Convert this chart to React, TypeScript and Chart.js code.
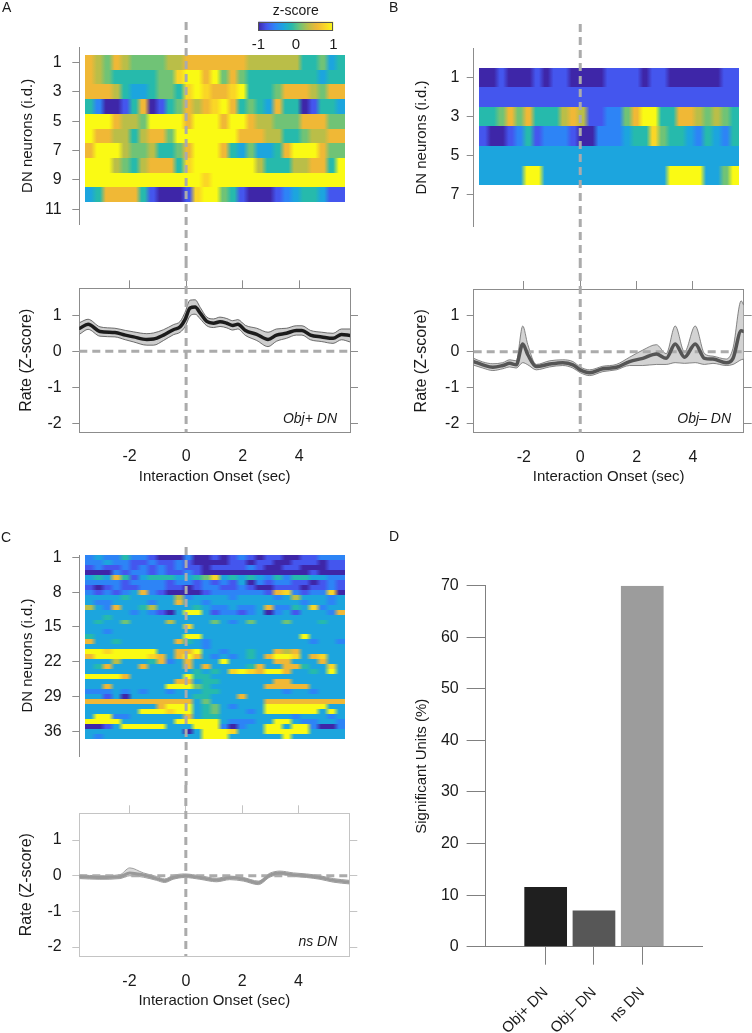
import React, { useEffect, useRef } from "react";
import { Chart, registerables } from "chart.js";

Chart.register(...registerables);

const FONT = "'Liberation Sans', Arial, Helvetica, sans-serif";
const INK = "#1a1a1a";
Chart.defaults.font.family = FONT;
Chart.defaults.color = INK;

/* ================= data ================= */
// shared time axis (sec) and rate axis (z-score)
const timeMin = -3.78;
const timeMax = 5.8;
const timeTicks = [-2, 0, 2, 4];
const rateMin = -2.25;
const rateMax = 1.75;
const rateTicks = [-2, -1, 0, 1];
const onsetTime = 0;
const baselineRate = 0;

// heatmap time bins span
const heatBinStart = -3.58;
const heatBinEnd = 5.63;

// each heatmap digit is a quantised z-score level
const zScoreLevels = [-1, -0.78, -0.56, -0.33, -0.11, 0.11, 0.33, 0.56, 0.78, 1];
const colorbarTicks = [-1, 0, 1];

// Panel A heatmap (Obj+ DN), 10 neurons
const heatRowsA = [
  "76576555566777777766666644534",
  "76544444558997957544444444344",
  "77764334554898778944457776577",
  "42001470145767897454374401443",
  "99976659999799979976655577755",
  "97766467759999999777664456677",
  "79996556445799974353347999755",
  "99965467774899999996444667749",
  "99999999999998999999999999999",
  "34777741000189954100012344311",
];
const heatTicksA = [1, 3, 5, 7, 9, 11];

// Panel B heatmap (Obj– DN), 6 neurons
const heatRowsB = [
  "00100010110000111101100000011",
  "11111111111111111111111111111",
  "44575744467611225799447765654",
  "10012412221002223448544324324",
  "33333333333333333333333333333",
  "33333993333333333333399993359",
];
const heatTicksB = [1, 3, 5, 7];

// Panel C heatmap (ns DN), 37 neurons
const heatRowsC = [
  "23224221000200101210110011222",
  "22322112112100001101100111011",
  "12112121212110111121001100011",
  "00021221211210000000000001000",
  "34374134443345834343242443322",
  "22221222212212121302122110121",
  "10121122211012211210011101121",
  "21212372100001222222178212280",
  "33334333336233332333323633323",
  "32233332337332333333333323323",
  "63273346333343223223722438233",
  "33333232103993122123023133327",
  "33433333333333333333333333333",
  "34335333363333532353335333433",
  "33333333333833333333333333333",
  "33233333333333333333333333333",
  "43333333333993333333333393333",
  "73343333337432333333333332332",
  "33333333333332333333333333333",
  "99899999337793323343376733333",
  "79999998737973232343799837833",
  "33363334723733393333377333733",
  "34733373333737333347337743383",
  "33333333333343438987997334393",
  "99997333333944333333333333333",
  "33333333337734433333377333333",
  "33733333399954333333777773333",
  "22232323323334433333332332333",
  "33130333333344333733333333333",
  "77777777777735333333777777777",
  "33333333799934532333999999933",
  "33333399989934533323999999393",
  "39922333333734433333333233323",
  "99993333339999932223399322332",
  "00139999933399920233993992002",
  "33333333333039998333999993333",
  "32333333333339993333339333333",
];
const heatTicksC = [1, 8, 15, 22, 29, 36];

// Panel A population rate
const timeA = [-3.76, -3.47, -3.05, -2.52, -2.15, -1.86, -1.39, -1.15, -0.8, -0.45, -0.21, -0.04, 0.14, 0.32, 0.5, 0.73, 0.97, 1.2, 1.44, 1.65, 1.83, 2.1, 2.5, 2.9, 3.2, 3.55, 3.9, 4.1, 4.4, 4.8, 5.2, 5.5, 5.8];
const meanA = [0.64, 0.75, 0.55, 0.52, 0.45, 0.4, 0.33, 0.34, 0.45, 0.6, 0.68, 0.88, 1.2, 1.23, 1.06, 0.83, 0.78, 0.82, 0.78, 0.72, 0.75, 0.58, 0.47, 0.33, 0.45, 0.5, 0.58, 0.58, 0.45, 0.4, 0.36, 0.47, 0.44];
const upperA = [0.8, 0.89, 0.68, 0.64, 0.58, 0.54, 0.49, 0.51, 0.6, 0.74, 0.83, 1.08, 1.42, 1.43, 1.22, 0.95, 0.9, 0.95, 0.91, 0.85, 0.88, 0.72, 0.64, 0.53, 0.62, 0.64, 0.71, 0.71, 0.58, 0.53, 0.5, 0.62, 0.62];
const lowerA = [0.48, 0.61, 0.42, 0.4, 0.32, 0.26, 0.17, 0.17, 0.3, 0.46, 0.53, 0.68, 0.98, 1.03, 0.9, 0.71, 0.66, 0.69, 0.65, 0.59, 0.62, 0.44, 0.3, 0.13, 0.28, 0.36, 0.45, 0.45, 0.32, 0.27, 0.22, 0.32, 0.26];

// Panel B population rate
const timeB = [-3.78, -3.46, -3.1, -2.75, -2.5, -2.27, -2.04, -1.86, -1.56, -1.09, -0.62, -0.26, 0, 0.33, 0.8, 1.28, 1.75, 2.22, 2.7, 3.05, 3.37, 3.7, 4.08, 4.41, 4.71, 5.18, 5.42, 5.71, 5.8];
const meanB = [-0.27, -0.36, -0.43, -0.38, -0.32, -0.36, 0.22, -0.08, -0.41, -0.34, -0.3, -0.36, -0.5, -0.58, -0.47, -0.43, -0.27, -0.18, -0.06, -0.18, 0.22, -0.15, 0.22, -0.18, -0.2, -0.3, -0.18, 0.59, 0.57];
const upperB = [-0.18, -0.28, -0.33, -0.3, -0.22, -0.25, 0.72, 0.2, -0.35, -0.25, -0.22, -0.27, -0.42, -0.5, -0.4, -0.35, -0.15, 0.05, 0.2, -0.05, 0.72, 0.0, 0.72, -0.05, -0.12, -0.2, 0.1, 1.42, 1.3];
const lowerB = [-0.37, -0.45, -0.52, -0.47, -0.42, -0.45, -0.3, -0.36, -0.5, -0.42, -0.38, -0.45, -0.58, -0.66, -0.55, -0.5, -0.38, -0.38, -0.35, -0.35, -0.3, -0.32, -0.3, -0.35, -0.32, -0.38, -0.35, -0.22, -0.2];

// Panel C population rate
const timeC = [-3.78, -3.05, -2.34, -1.99, -1.51, -1.04, -0.75, -0.45, -0.04, 0.5, 1.09, 1.56, 2.04, 2.57, 2.98, 3.34, 3.81, 4.28, 4.76, 5.23, 5.8];
const meanC = [-0.03, -0.05, -0.03, 0.08, 0.02, -0.08, -0.14, -0.05, 0.0, -0.05, -0.12, -0.06, -0.1, -0.2, 0.02, 0.08, 0.03, 0.0, -0.05, -0.13, -0.18];
const upperC = [0.02, 0.0, 0.03, 0.22, 0.08, -0.02, -0.09, 0.01, 0.05, 0.0, -0.07, -0.01, -0.05, -0.15, 0.07, 0.13, 0.08, 0.05, 0.0, -0.08, -0.13];
const lowerC = [-0.08, -0.1, -0.08, 0.0, -0.04, -0.13, -0.19, -0.1, -0.05, -0.1, -0.17, -0.11, -0.15, -0.25, -0.04, 0.03, -0.02, -0.05, -0.1, -0.18, -0.23];

// Panel D
const dLabels = ["Obj+ DN", "Obj\u2013 DN", "ns DN"];
const dPositions = [1, 2, 3];
const dValues = [11.6, 7.0, 70.0];
const dColors = ["#1f1f1f", "#575757", "#9c9c9c"];
const dMin = 0;
const dMax = 70;
const dStep = 10;

/* ================= colour map ================= */
const PARULA: [number, number[]][] = [
  [-1, [62, 38, 168]],
  [-0.78, [68, 86, 238]],
  [-0.56, [45, 132, 246]],
  [-0.33, [28, 165, 222]],
  [-0.11, [38, 186, 172]],
  [0.11, [112, 195, 118]],
  [0.33, [186, 190, 72]],
  [0.56, [240, 184, 54]],
  [0.78, [250, 214, 38]],
  [1, [250, 250, 20]],
];
function zColor(z: number): string {
  const v = Math.max(-1, Math.min(1, z));
  for (let i = 1; i < PARULA.length; i++) {
    const [z0, c0] = PARULA[i - 1];
    const [z1, c1] = PARULA[i];
    if (v <= z1 + 1e-9) {
      const f = (v - z0) / (z1 - z0);
      const c = c0.map((a, k) => Math.round(a + (c1[k] - a) * f));
      return `rgb(${c[0]},${c[1]},${c[2]})`;
    }
  }
  const c = PARULA[PARULA.length - 1][1];
  return `rgb(${c[0]},${c[1]},${c[2]})`;
}

/* ================= plugins ================= */
const fixTicks = (vals: number[]) => (s: any) => {
  s.ticks = vals.map((v) => ({ value: v }));
};

function heatPlugin(rows: string[]) {
  return {
    id: "heat",
    beforeDatasetsDraw(chart: any) {
      const { ctx } = chart;
      const x = chart.scales.x;
      const y = chart.scales.y;
      const x0 = Math.round(x.getPixelForValue(heatBinStart));
      const x1 = Math.round(x.getPixelForValue(heatBinEnd));
      ctx.save();
      rows.forEach((row, r) => {
        const n = row.length;
        const ya = y.getPixelForValue(r + 0.5);
        const yb = y.getPixelForValue(r + 1.5);
        const top = Math.round(Math.min(ya, yb));
        const bot = Math.round(Math.max(ya, yb));
        const g = ctx.createLinearGradient(x0, 0, x1, 0);
        for (let c = 0; c < n; c++) {
          const col = zColor(zScoreLevels[+row[c]]);
          g.addColorStop((c + 0.32) / n, col);
          g.addColorStop((c + 0.68) / n, col);
        }
        ctx.fillStyle = g;
        ctx.fillRect(x0, top, x1 - x0, bot - top);
      });
      ctx.restore();
    },
  };
}

function refPlugin(o: { vTop: number; vBottom?: number; h?: number; beforeIndex?: number }) {
  const draw = (chart: any) => {
    const { ctx, chartArea, scales } = chart;
    ctx.save();
    ctx.strokeStyle = "#ababab";
    ctx.lineWidth = 3;
    ctx.setLineDash([8, 5]);
    const px = scales.x.getPixelForValue(onsetTime);
    ctx.beginPath();
    ctx.moveTo(px, o.vTop);
    ctx.lineTo(px, o.vBottom ?? chartArea.bottom);
    ctx.stroke();
    if (o.h !== undefined) {
      const py = scales.y.getPixelForValue(o.h);
      ctx.beginPath();
      ctx.moveTo(chartArea.left, py);
      ctx.lineTo(chartArea.right, py);
      ctx.stroke();
    }
    ctx.restore();
  };
  return {
    id: "refs",
    beforeDatasetDraw(chart: any, args: any) {
      if (o.beforeIndex === args.index) draw(chart);
    },
    afterDatasetsDraw(chart: any) {
      if (o.beforeIndex === undefined) draw(chart);
    },
  };
}

function cornerLabel(text: string, dx: number, dy: number) {
  return {
    id: "corner",
    afterDatasetsDraw(chart: any) {
      const { ctx, chartArea } = chart;
      ctx.save();
      ctx.font = `italic 14px ${FONT}`;
      ctx.fillStyle = INK;
      ctx.textAlign = "right";
      ctx.textBaseline = "middle";
      ctx.fillText(text, chartArea.right - dx, chartArea.bottom - dy);
      ctx.restore();
    },
  };
}

const colorbarPlugin = {
  id: "cbar",
  beforeDatasetsDraw(chart: any) {
    const { ctx, chartArea: a, scales } = chart;
    const x = scales.x;
    const g = ctx.createLinearGradient(a.left, 0, a.right, 0);
    const N = 40;
    for (let i = 0; i <= N; i++) {
      const z = -1 + (2 * i) / N;
      g.addColorStop((x.getPixelForValue(z) - a.left) / (a.right - a.left), zColor(z));
    }
    ctx.save();
    ctx.fillStyle = g;
    ctx.fillRect(a.left, a.top, a.right - a.left, a.bottom - a.top);
    ctx.strokeStyle = "#555";
    ctx.lineWidth = 1;
    ctx.strokeRect(Math.round(a.left) + 0.5, Math.round(a.top) + 0.5, Math.round(a.right - a.left) - 1, Math.round(a.bottom - a.top) - 1);
    ctx.restore();
  },
};

/* ================= configs ================= */
type Geo = { W: number; H: number; L: number; T: number; R: number; B: number };
const AXIS = "#8c8c8c";

function heatConfig(geo: Geo, rows: string[], ticks: number[], yMin: number, yMax: number, tickPad: number, titlePad: number, vTop: number): any {
  return {
    type: "scatter",
    data: { datasets: [] },
    options: {
      animation: false,
      responsive: false,
      events: [],
      layout: { padding: { left: 0, top: geo.T, right: geo.W - geo.R, bottom: geo.H - geo.B } },
      plugins: { legend: { display: false }, tooltip: { enabled: false } },
      scales: {
        x: { type: "linear", display: false, min: timeMin, max: timeMax },
        y: {
          type: "linear",
          position: "left",
          reverse: true,
          min: yMin,
          max: yMax,
          afterBuildTicks: fixTicks(ticks),
          afterFit: (s: any) => {
            s.width = geo.L;
          },
          grid: { display: true, drawOnChartArea: false, drawTicks: true, tickLength: 7, color: AXIS },
          border: { display: true, color: AXIS, width: 1 },
          ticks: { padding: tickPad, font: { size: 16 }, color: INK, autoSkip: false, callback: (v: any) => String(v) },
          title: { display: true, text: "DN neurons (i.d.)", font: { size: 15 }, color: INK, padding: { top: titlePad, bottom: 0 } },
        },
      },
    },
    plugins: [heatPlugin(rows), refPlugin({ vTop, vBottom: geo.H })],
  };
}

type LineStyle = { box: string; band: string; edge: string; edgeW: number; mean: string; meanW: number };

function lineConfig(
  geo: Geo,
  time: number[],
  mean: number[],
  upper: number[],
  lower: number[],
  st: LineStyle,
  label: string,
  lab: { dx: number; dy: number },
  pads: { yTick: number; yTitle: number; xTick: number; xTitle: number }
): any {
  const pts = (v: number[]) => time.map((t, i) => ({ x: t, y: v[i] }));
  const common = { pointRadius: 0, cubicInterpolationMode: "monotone" };
  return {
    type: "line",
    data: {
      datasets: [
        { ...common, data: pts(upper), borderColor: st.edge, borderWidth: st.edgeW, fill: false, order: 3 },
        { ...common, data: pts(lower), borderColor: st.edge, borderWidth: st.edgeW, fill: "-1", backgroundColor: st.band, order: 2 },
        { ...common, data: pts(mean), borderColor: st.mean, borderWidth: st.meanW, fill: false, order: 1, borderCapStyle: "round", borderJoinStyle: "round" },
      ],
    },
    options: {
      animation: false,
      responsive: false,
      events: [],
      layout: { padding: { left: 0, top: geo.T - 8, right: geo.W - geo.R - 8, bottom: 0 } },
      plugins: { legend: { display: false }, tooltip: { enabled: false }, filler: { drawTime: "beforeDatasetsDraw" } },
      scales: {
        x: {
          type: "linear",
          position: "bottom",
          min: timeMin,
          max: timeMax,
          afterBuildTicks: fixTicks(timeTicks),
          afterFit: (s: any) => {
            s.height = geo.H - geo.B;
          },
          grid: { display: true, drawOnChartArea: false, drawTicks: false, color: st.box },
          border: { display: true, color: st.box, width: 1 },
          ticks: { padding: pads.xTick, font: { size: 16 }, color: INK, maxRotation: 0, autoSkip: false, callback: (v: any) => String(v) },
          title: { display: true, text: "Interaction Onset (sec)", font: { size: 15 }, color: INK, padding: { top: 0, bottom: pads.xTitle } },
        },
        xTop: {
          type: "linear",
          axis: "x",
          position: "top",
          min: timeMin,
          max: timeMax,
          afterBuildTicks: fixTicks(timeTicks),
          afterFit: (s: any) => {
            s.height = 8;
          },
          grid: { display: true, drawOnChartArea: false, drawTicks: true, tickLength: 8, color: st.box },
          border: { display: true, color: st.box, width: 1 },
          ticks: { display: false },
        },
        y: {
          type: "linear",
          position: "left",
          min: rateMin,
          max: rateMax,
          afterBuildTicks: fixTicks(rateTicks),
          afterFit: (s: any) => {
            s.width = geo.L;
          },
          grid: { display: true, drawOnChartArea: false, drawTicks: true, tickLength: 7, color: st.box },
          border: { display: true, color: st.box, width: 1 },
          ticks: { padding: pads.yTick, font: { size: 16 }, color: INK, autoSkip: false, callback: (v: any) => String(v) },
          title: { display: true, text: "Rate (Z-score)", font: { size: 16 }, color: INK, padding: { top: pads.yTitle, bottom: 0 } },
        },
        yRight: {
          type: "linear",
          axis: "y",
          position: "right",
          min: rateMin,
          max: rateMax,
          afterBuildTicks: fixTicks(rateTicks),
          afterFit: (s: any) => {
            s.width = 8;
          },
          grid: { display: true, drawOnChartArea: false, drawTicks: true, tickLength: 8, color: st.box },
          border: { display: true, color: st.box, width: 1 },
          ticks: { display: false },
        },
      },
    },
    plugins: [refPlugin({ vTop: 0, h: baselineRate, beforeIndex: 2 }), cornerLabel(label, lab.dx, lab.dy)],
  };
}

function barConfig(): any {
  const geo = { W: 376, H: 508, L: 109.3, T: 60.7, R: 326, B: 421.7 };
  const AXD = "#808080";
  return {
    type: "bar",
    data: {
      datasets: [
        {
          data: dValues.map((v, i) => ({ x: dPositions[i], y: v })),
          backgroundColor: dColors,
          borderWidth: 0,
          barPercentage: 0.884,
          categoryPercentage: 1,
        },
      ],
    },
    options: {
      animation: false,
      responsive: false,
      events: [],
      layout: { padding: { left: 0, top: geo.T, right: geo.W - geo.R, bottom: 0 } },
      plugins: { legend: { display: false }, tooltip: { enabled: false } },
      scales: {
        x: {
          type: "linear",
          offset: false,
          min: -0.25,
          max: 4.237,
          afterBuildTicks: fixTicks(dPositions),
          afterFit: (s: any) => {
            s.height = geo.H - geo.B;
          },
          grid: { display: true, offset: false, drawOnChartArea: false, drawTicks: true, tickLength: 18, color: AXD },
          border: { display: true, color: AXD, width: 1 },
          ticks: {
            padding: 19,
            font: { size: 15 },
            color: INK,
            minRotation: 45,
            maxRotation: 45,
            autoSkip: false,
            callback: (v: any) => dLabels[dPositions.indexOf(v)] ?? "",
          },
        },
        y: {
          type: "linear",
          min: dMin,
          max: dMax,
          afterFit: (s: any) => {
            s.width = geo.L;
          },
          grid: { display: true, drawOnChartArea: false, drawTicks: true, tickLength: 18.7, color: AXD },
          border: { display: true, color: AXD, width: 1 },
          ticks: { stepSize: dStep, padding: 7.9, font: { size: 16 }, color: INK },
          title: { display: true, text: "Significant Units (%)", font: { size: 15 }, color: INK, padding: { top: 36.6, bottom: 0 } },
        },
      },
    },
  };
}

function colorbarConfig(): any {
  return {
    type: "scatter",
    data: { datasets: [] },
    options: {
      animation: false,
      responsive: false,
      events: [],
      layout: { padding: { left: 18.3, right: 24.7, top: 0, bottom: 0 } },
      plugins: {
        legend: { display: false },
        tooltip: { enabled: false },
        title: { display: true, text: "z-score", font: { size: 14, weight: "normal" }, color: INK, padding: { top: 2.3, bottom: 2.6 } },
      },
      scales: {
        x: {
          type: "linear",
          min: -1,
          max: 1,
          afterBuildTicks: fixTicks(colorbarTicks),
          afterFit: (s: any) => {
            s.height = 24;
          },
          grid: { display: false, drawTicks: false },
          border: { display: false },
          ticks: { padding: 5, font: { size: 15 }, color: INK, callback: (v: any) => String(v) },
        },
        y: { type: "linear", display: false, min: 0, max: 1 },
      },
    },
    plugins: [colorbarPlugin],
  };
}

/* ================= components ================= */
function ChartBox({ x, y, w, h, make }: { x: number; y: number; w: number; h: number; make: () => any }) {
  const ref = useRef<HTMLCanvasElement | null>(null);
  useEffect(() => {
    if (!ref.current) return;
    const chart = new Chart(ref.current, make());
    return () => chart.destroy();
  }, []);
  return <canvas ref={ref} width={w} height={h} style={{ position: "absolute", left: x, top: y, width: w, height: h }} />;
}

function Letter({ x, y, children }: { x: number; y: number; children: string }) {
  return (
    <div style={{ position: "absolute", left: x, top: y, fontFamily: FONT, fontSize: 14, lineHeight: "14px", color: INK }}>
      {children}
    </div>
  );
}

const styleA: LineStyle = { box: "#8c8c8c", band: "#cdcdcd", edge: "#4d4d4d", edgeW: 0.8, mean: "#1c1c1c", meanW: 3.5 };
const styleB: LineStyle = { box: "#8c8c8c", band: "#d3d3d3", edge: "#6a6a6a", edgeW: 0.8, mean: "#555555", meanW: 3.5 };
const styleC: LineStyle = { box: "#c4c4c4", band: "#dadada", edge: "#9e9e9e", edgeW: 1, mean: "#999999", meanW: 3 };

export default function App() {
  return (
    <div style={{ position: "absolute", left: 0, top: 0, width: 752, height: 1033, background: "#fff", overflow: "hidden" }}>
      <ChartBox
        x={0}
        y={0}
        w={376}
        h={260}
        make={() => heatConfig({ W: 376, H: 260, L: 79.3, T: 47.7, R: 350, B: 224 }, heatRowsA, heatTicksA, 0, 12, 10.6, 19.3, 22)}
      />
      <ChartBox
        x={0}
        y={260}
        w={376}
        h={265}
        make={() =>
          lineConfig({ W: 376, H: 265, L: 79.3, T: 28.3, R: 350, B: 172.3 }, timeA, meanA, upperA, lowerA, styleA, "Obj+ DN", { dx: 13, dy: 13.3 }, { yTick: 10.6, yTitle: 17.2, xTick: 14.8, xTitle: 39.3 })
        }
      />
      <ChartBox
        x={376}
        y={0}
        w={376}
        h={260}
        make={() => heatConfig({ W: 376, H: 260, L: 97.7, T: 48.3, R: 367.7, B: 226.7 }, heatRowsB, heatTicksB, -0.48, 8.62, 7.4, 36.8, 24)}
      />
      <ChartBox
        x={376}
        y={260}
        w={376}
        h={265}
        make={() =>
          lineConfig({ W: 376, H: 265, L: 97.7, T: 29, R: 367.7, B: 172.7 }, timeB, meanB, upperB, lowerB, styleB, "Obj\u2013 DN", { dx: 12.7, dy: 13.7 }, { yTick: 7.4, yTitle: 36.3, xTick: 15.4, xTitle: 39.3 })
        }
      />
      <ChartBox
        x={0}
        y={525}
        w={376}
        h={260}
        make={() => heatConfig({ W: 376, H: 260, L: 79.3, T: 30, R: 350, B: 231 }, heatRowsC, heatTicksC, 0.5, 41, 10.6, 19.3, 22)}
      />
      <ChartBox
        x={0}
        y={785}
        w={376}
        h={248}
        make={() =>
          lineConfig({ W: 376, H: 248, L: 79.3, T: 28.3, R: 349.3, B: 171 }, timeC, meanC, upperC, lowerC, styleC, "ns DN", { dx: 12, dy: 13.7 }, { yTick: 10.6, yTitle: 17.2, xTick: 16.1, xTitle: 23.3 })
        }
      />
      <ChartBox x={376} y={525} w={376} h={508} make={barConfig} />
      <ChartBox x={240} y={0} w={118} h={55} make={colorbarConfig} />
      <Letter x={2} y={0}>A</Letter>
      <Letter x={389} y={0}>B</Letter>
      <Letter x={1} y={530}>C</Letter>
      <Letter x={389} y={529}>D</Letter>
    </div>
  );
}
